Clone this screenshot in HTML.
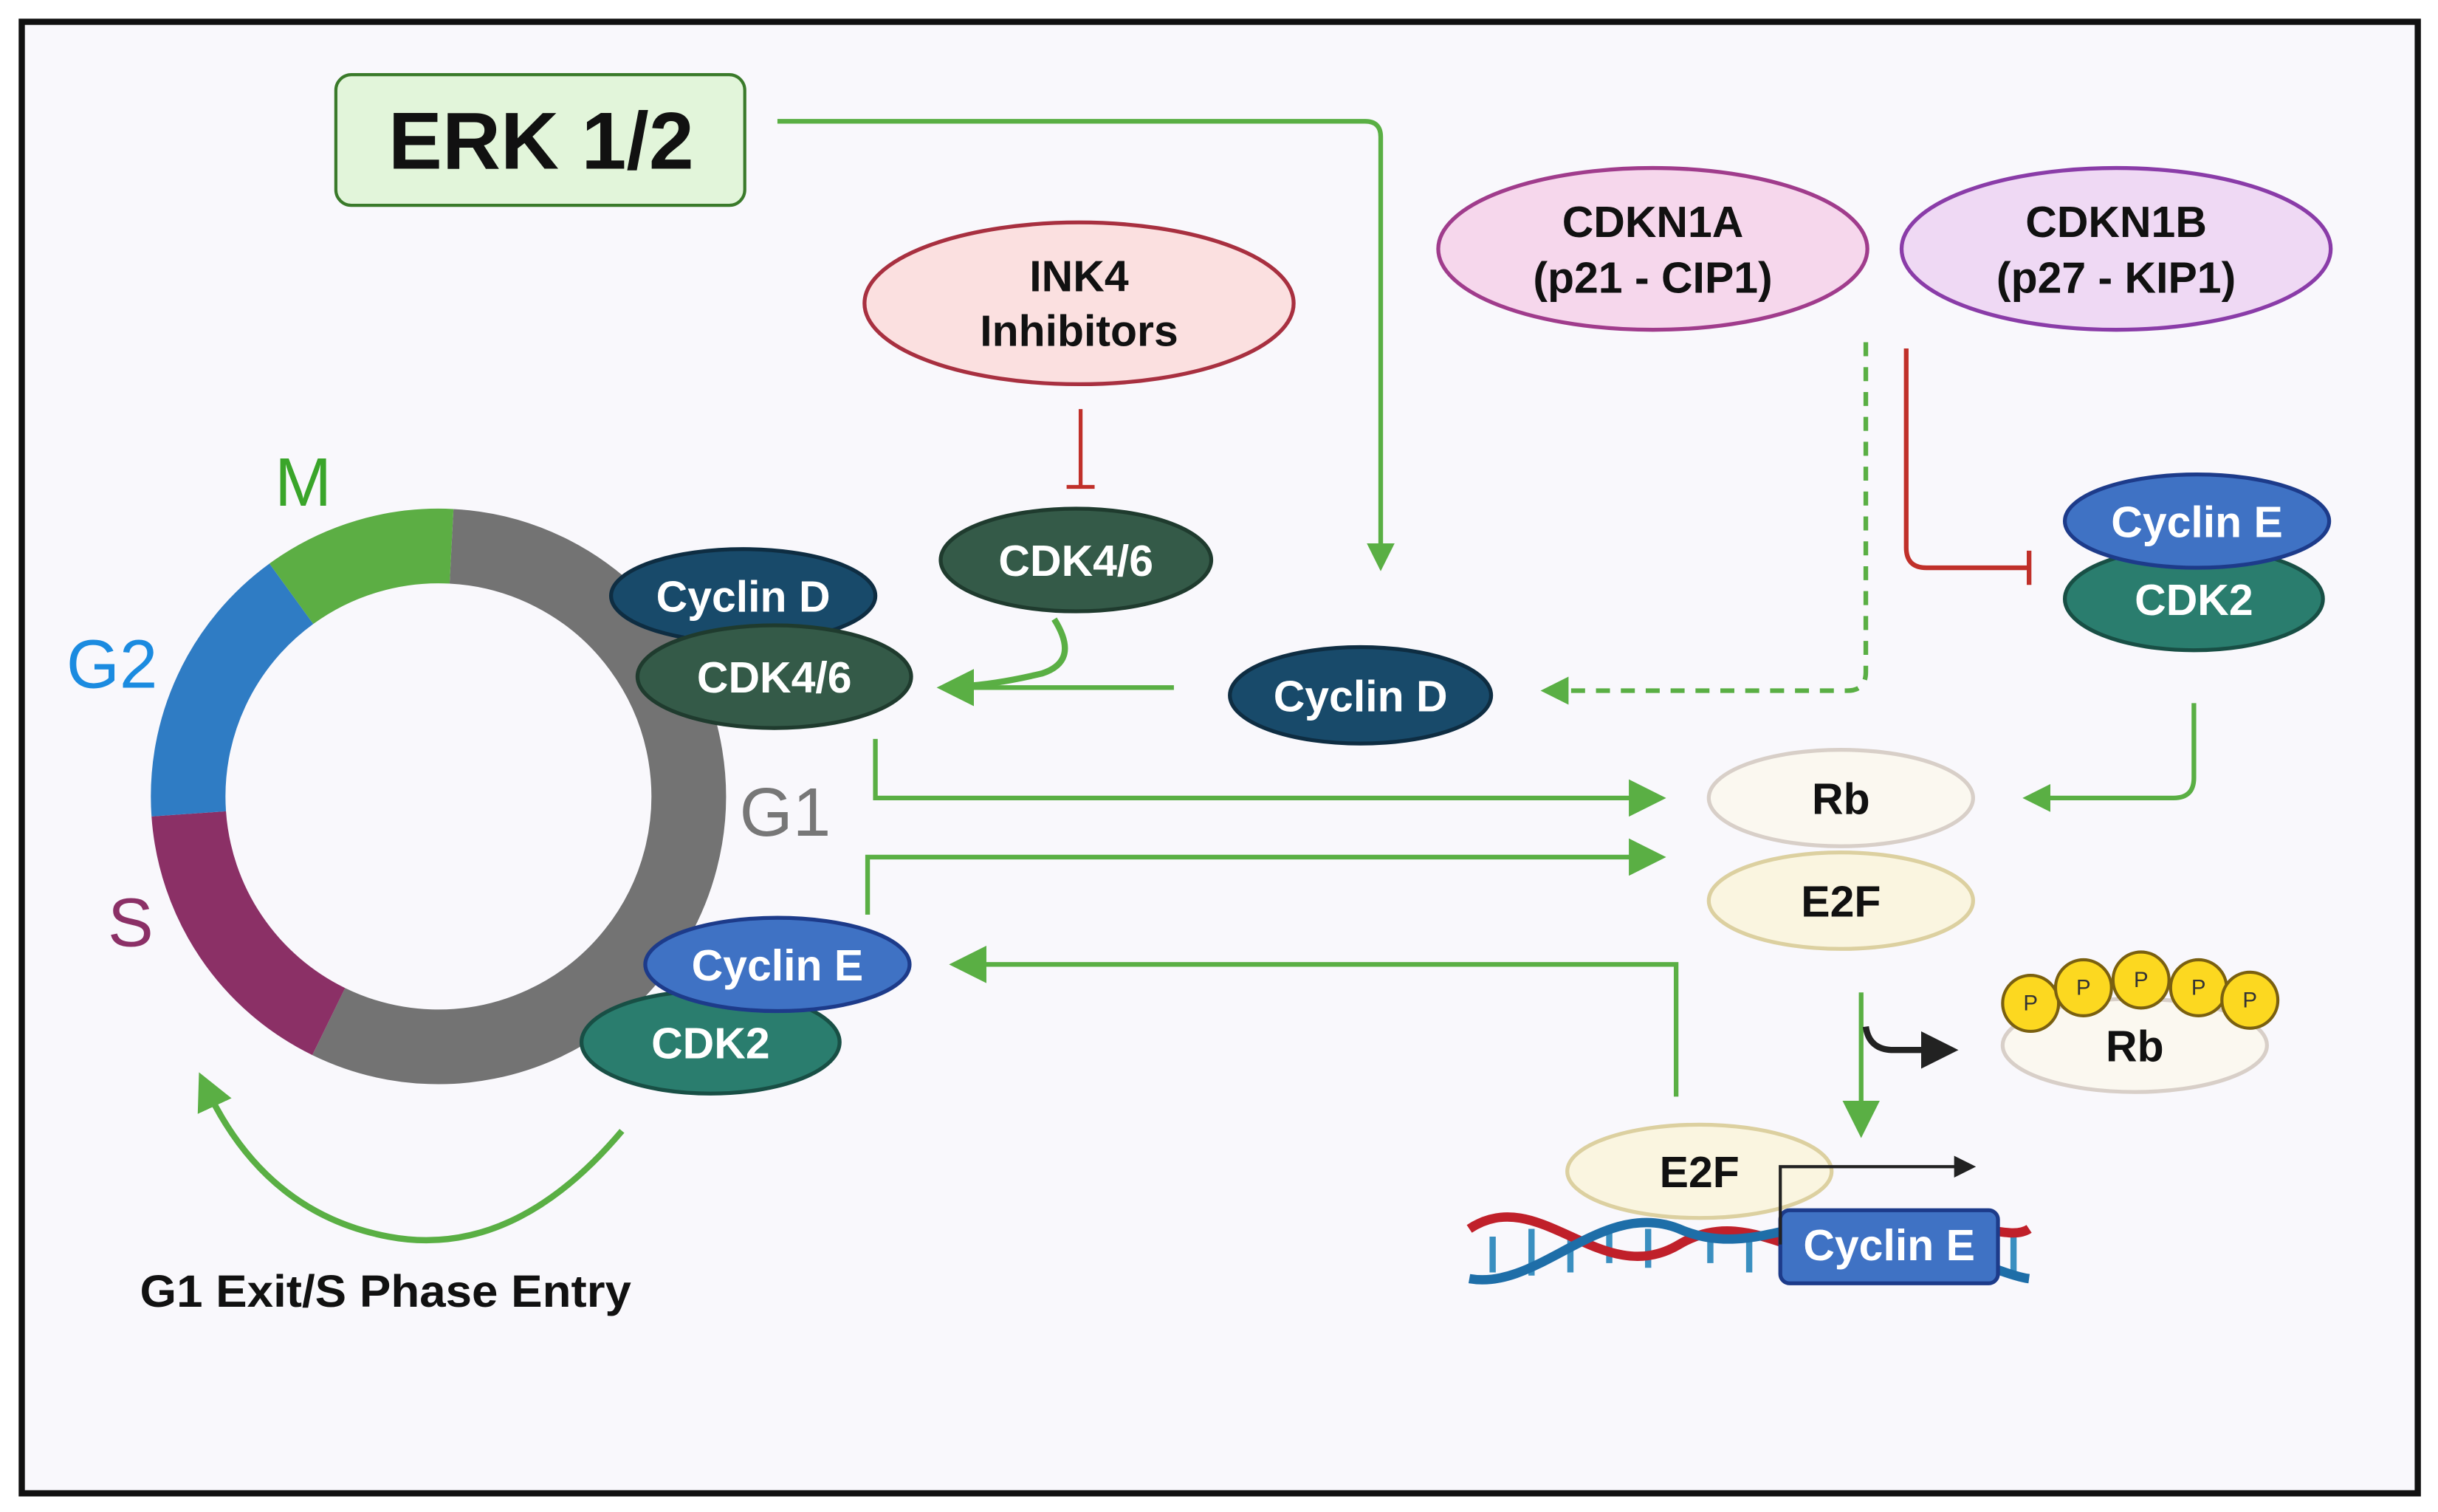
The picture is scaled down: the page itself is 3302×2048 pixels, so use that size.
<!DOCTYPE html>
<html><head><meta charset="utf-8"><style>
html,body{margin:0;padding:0;background:#fff;}
svg{display:block;}
text{font-family:"Liberation Sans",Arial,sans-serif;font-weight:bold;text-anchor:middle;dominant-baseline:central;}
</style></head><body>
<svg width="3302" height="2048" viewBox="0 0 1568 972" preserveAspectRatio="none" xmlns="http://www.w3.org/2000/svg">
<defs>
<marker id="ga" viewBox="0 0 10 10" refX="6" refY="5" markerWidth="6" markerHeight="6" orient="auto" markerUnits="strokeWidth"><path d="M0,0 L10,5 L0,10 z" fill="#5aaf44"/></marker>
<marker id="ga3" viewBox="0 0 10 10" refX="6" refY="5" markerWidth="8" markerHeight="8" orient="auto" markerUnits="strokeWidth"><path d="M0,0 L10,5 L0,10 z" fill="#5aaf44"/></marker>
<marker id="ba" viewBox="0 0 10 10" refX="6" refY="5" markerWidth="6" markerHeight="6" orient="auto" markerUnits="strokeWidth"><path d="M0,0 L10,5 L0,10 z" fill="#222"/></marker>
<marker id="ka" viewBox="0 0 10 10" refX="8" refY="5" markerWidth="7" markerHeight="7" orient="auto" markerUnits="strokeWidth"><path d="M0,0 L10,5 L0,10 z" fill="#222"/></marker>
</defs>
<rect x="0" y="0" width="1568" height="972" fill="#fff"/>
<rect x="14" y="14" width="1541" height="946" fill="#f9f8fc" stroke="#111" stroke-width="4"/>

<g fill="none" stroke-width="48">
<path d="M 290.4 351.2 A 161 161 0 1 1 211.4 656.7" stroke="#737373"/>
<path d="M 211.4 656.7 A 161 161 0 0 1 121.4 523.2" stroke="#8b3066"/>
<path d="M 121.4 523.2 A 161 161 0 0 1 187.4 381.7" stroke="#2f7cc4"/>
<path d="M 187.4 381.7 A 161 161 0 0 1 290.4 351.2" stroke="#5cae44"/>
</g>
<text x="195" y="310" font-size="44" fill="#3aa52a" style="font-weight:normal">M</text>
<text x="72" y="427" font-size="44" fill="#1b8be0" style="font-weight:normal">G2</text>
<text x="84" y="593" font-size="44" fill="#8b3066" style="font-weight:normal">S</text>
<text x="505" y="522" font-size="44" fill="#777" style="font-weight:normal">G1</text>

<rect x="216" y="48" width="263" height="84" rx="10" fill="#e2f5da" stroke="#3a7a2a" stroke-width="2"/>
<text x="348" y="91" font-size="52" fill="#111">ERK 1/2</text>
<path d="M500 78 H878 Q888 78 888 88 V360" fill="none" stroke="#5aaf44" stroke-width="3" marker-end="url(#ga)"/>

<ellipse cx="694" cy="195" rx="138" ry="52" fill="#fbe0e0" stroke="#a83040" stroke-width="2.5"/>
<text x="694" y="178" font-size="28" fill="#111">INK4</text>
<text x="694" y="213" font-size="28" fill="#111">Inhibitors</text>
<path d="M695 263 V312 M686 313 H704" stroke="#c0302a" stroke-width="2.5" fill="none"/>
<ellipse cx="692" cy="360" rx="87" ry="33" fill="#345a48" stroke="#1f3b2e" stroke-width="2.5"/>
<text x="692" y="361" font-size="28" fill="#fff">CDK4/6</text>

<ellipse cx="1063" cy="160" rx="138" ry="52" fill="#f6d7ec" stroke="#a03c8c" stroke-width="2.5"/>
<text x="1063" y="143" font-size="28" fill="#111">CDKN1A</text>
<text x="1063" y="179" font-size="28" fill="#111">(p21 - CIP1)</text>
<ellipse cx="1361" cy="160" rx="138" ry="52" fill="#efd9f4" stroke="#8a3ca8" stroke-width="2.5"/>
<text x="1361" y="143" font-size="28" fill="#111">CDKN1B</text>
<text x="1361" y="179" font-size="28" fill="#111">(p27 - KIP1)</text>
<path d="M1200 220 V432 Q1200 444 1188 444 H998" fill="none" stroke="#5aaf44" stroke-width="3" stroke-dasharray="9,7" marker-end="url(#ga)"/>
<path d="M1226 224 V352 Q1226 365 1239 365 H1305 M1305 354 V376" fill="none" stroke="#c0302a" stroke-width="3"/>

<ellipse cx="1411" cy="385" rx="83" ry="33" fill="#2a7d6e" stroke="#184f45" stroke-width="2.5"/>
<text x="1411" y="386" font-size="28" fill="#fff">CDK2</text>
<ellipse cx="1413" cy="335" rx="85" ry="30" fill="#3f72c4" stroke="#1d3b8a" stroke-width="2.5"/>
<text x="1413" y="336" font-size="28" fill="#fff">Cyclin E</text>
<path d="M1411 452 V500 Q1411 513 1398 513 H1308" fill="none" stroke="#5aaf44" stroke-width="3" marker-end="url(#ga)"/>

<ellipse cx="875" cy="447" rx="84" ry="31" fill="#184a6a" stroke="#0e2d42" stroke-width="2.5"/>
<text x="875" y="448" font-size="28" fill="#fff">Cyclin D</text>
<path d="M755 442 H612" fill="none" stroke="#5aaf44" stroke-width="3" marker-end="url(#ga3)"/>
<path d="M678 398 Q695 425 670 433 Q640 440 620 441" fill="none" stroke="#5aaf44" stroke-width="4"/>

<ellipse cx="478" cy="383" rx="85" ry="30" fill="#184a6a" stroke="#0e2d42" stroke-width="2.5"/>
<text x="478" y="384" font-size="28" fill="#fff">Cyclin D</text>
<ellipse cx="498" cy="435" rx="88" ry="33" fill="#345a48" stroke="#1f3b2e" stroke-width="2.5"/>
<text x="498" y="436" font-size="28" fill="#fff">CDK4/6</text>
<ellipse cx="457" cy="670" rx="83" ry="33" fill="#2a7d6e" stroke="#184f45" stroke-width="2.5"/>
<text x="457" y="671" font-size="28" fill="#fff">CDK2</text>
<ellipse cx="500" cy="620" rx="85" ry="30" fill="#3f72c4" stroke="#1d3b8a" stroke-width="2.5"/>
<text x="500" y="621" font-size="28" fill="#fff">Cyclin E</text>

<path d="M563 475 V513 H1062" fill="none" stroke="#5aaf44" stroke-width="3" marker-end="url(#ga3)"/>
<path d="M558 588 V551 H1062" fill="none" stroke="#5aaf44" stroke-width="3" marker-end="url(#ga3)"/>
<path d="M1078 705 V620 H620" fill="none" stroke="#5aaf44" stroke-width="3" marker-end="url(#ga3)"/>

<ellipse cx="1184" cy="513" rx="85" ry="31" fill="#fbf8f0" stroke="#d8cfc8" stroke-width="2.5"/>
<text x="1184" y="514" font-size="28" fill="#111">Rb</text>
<ellipse cx="1184" cy="579" rx="85" ry="31" fill="#faf5e0" stroke="#dcd0a0" stroke-width="2.5"/>
<text x="1184" y="580" font-size="28" fill="#111">E2F</text>
<path d="M1197 638 V722" fill="none" stroke="#5aaf44" stroke-width="3" marker-end="url(#ga3)"/>
<path d="M1200 660 Q1202 675 1218 675 H1250" fill="none" stroke="#222" stroke-width="4" marker-end="url(#ba)"/>

<ellipse cx="1373" cy="672" rx="85" ry="30" fill="#fbf8f0" stroke="#d8cfc8" stroke-width="2.5"/>
<g fill="#fcd820" stroke="#7a6010" stroke-width="2">
<circle cx="1306" cy="645" r="18"/><circle cx="1340" cy="635" r="18"/><circle cx="1377" cy="630" r="18"/><circle cx="1414" cy="635" r="18"/><circle cx="1447" cy="643" r="18"/>
</g>
<g font-size="14" fill="#333">
<text x="1306" y="645" style="font-weight:normal">P</text><text x="1340" y="635" style="font-weight:normal">P</text><text x="1377" y="630" style="font-weight:normal">P</text><text x="1414" y="635" style="font-weight:normal">P</text><text x="1447" y="643" style="font-weight:normal">P</text>
</g>
<text x="1373" y="673" font-size="28" fill="#111">Rb</text>

<g fill="none" stroke-width="5">
<path d="M960 795 V818 M985 790 V820 M1010 795 V818 M1035 792 V812 M1060 790 V815 M1100 790 V812 M1125 792 V818 M1295 790 V818" stroke="#3a8fc0" stroke-width="4"/>
<path d="M945 790 C990 760 1030 830 1080 800 C1130 770 1170 830 1220 800 C1260 776 1290 800 1305 790" stroke="#c0202a" stroke-width="6"/>
<path d="M945 822 C990 830 1030 770 1080 790 C1130 812 1170 770 1220 790 C1260 806 1290 820 1305 822" stroke="#1e6ea8" stroke-width="6"/>
</g>
<ellipse cx="1093" cy="753" rx="85" ry="30" fill="#faf5e0" stroke="#dcd0a0" stroke-width="2.5"/>
<text x="1093" y="754" font-size="28" fill="#111">E2F</text>
<rect x="1145" y="778" width="140" height="47" rx="6" fill="#3f72c4" stroke="#1d3b8a" stroke-width="2.5"/>
<text x="1215" y="801" font-size="28" fill="#fff">Cyclin E</text>
<path d="M1145 800 V750 H1268" fill="none" stroke="#222" stroke-width="2" marker-end="url(#ka)"/>

<path d="M400 727 Q330 810 250 795 Q170 780 132 698" fill="none" stroke="#5aaf44" stroke-width="4" marker-end="url(#ga)"/>
<text x="248" y="830" font-size="29" fill="#111" textLength="316" lengthAdjust="spacingAndGlyphs">G1 Exit/S Phase Entry</text>
</svg>
</body></html>
